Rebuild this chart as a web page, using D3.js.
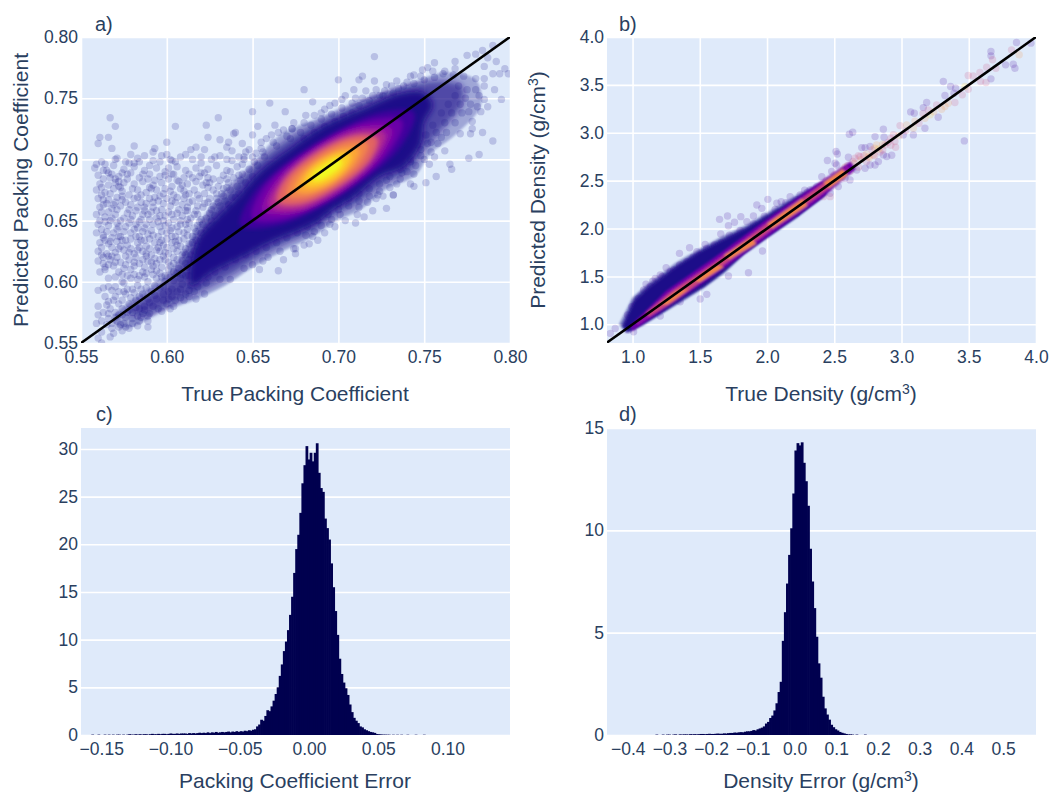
<!DOCTYPE html>
<html>
<head>
<meta charset="utf-8">
<script src="https://cdn.jsdelivr.net/npm/d3@7"></script>
<style>
  body { margin: 0; background: #fff; overflow: hidden; }
  text { font-family: "Liberation Sans", Arial, sans-serif; fill: #2a3f5f; }
</style>
</head>
<body>
<div id="chart"></div>
<script>
// all values below

// a) sparse points, thousandths of the packing coefficient [true, predicted]
var aPoints = [
[567,734],[570,727],[561,718],[560,713],[566,718],[568,709],[559,696],[581,711],[600,714],[605,727],[623,728],[630,734],[624,718],[631,716],[640,722],[639,721],[644,713],[650,739],[660,746],[669,739],[653,727],[650,720],[663,728],[665,722],[673,725],[593,709],[592,706],[617,710],[614,708],[611,704],[622,708],[636,714],[635,710],[638,707],[579,704],[587,703],[570,700],[576,698],[600,704],[584,698],[581,697],[590,695],[596,698],[605,698],[602,700],[620,702],[628,702],[631,703],[645,702],[658,717],[661,720],[670,719],[655,709],[652,705],[646,706],
[562,698],[571,701],[578,697],[583,701],[592,699],[597,703],[603,699],[608,702],[615,700],[620,697],[626,700],[638,699],[645,700],[651,698],[657,702],[558,693],[565,691],[569,695],[575,692],[581,694],[587,691],[594,693],[599,690],[606,694],[611,691],[617,693],[624,692],[629,695],[635,691],[641,694],[648,692],[653,695],
[560,687],[563,684],[568,688],[572,686],[579,689],[584,685],[590,688],[596,686],[601,684],[604,688],[610,685],[613,688],[619,686],[622,689],[627,684],[633,687],[639,685],[644,688],[650,686],[570,684],[572,682],[561,680],[566,679],[575,681],[581,680],[586,682],[592,679],[597,681],[603,678],[607,682],[612,680],[617,682],[621,679],[625,681],[630,678],[636,681],[641,678],[646,681],
[559,675],[564,673],[569,676],[574,674],[578,671],[583,675],[588,673],[594,675],[598,672],[602,674],[608,676],[613,672],[616,675],[622,672],[627,675],[632,672],[637,675],[642,672],[560,668],[566,667],[571,669],[576,665],[581,668],[585,665],[590,668],[595,666],[600,668],[605,665],[610,668],[615,666],[619,668],[624,665],[629,668],[634,666],[638,669],[561,661],[563,663],[568,660],[573,662],[578,659],[583,661],[587,658],[592,661],[597,659],[602,662],[607,659],[612,661],[617,658],[621,661],[626,659],[631,662],
[559,655],[564,653],[570,655],[575,652],[580,654],[585,651],[589,655],[594,652],[599,654],[604,651],[609,654],[614,652],[618,655],[623,652],[628,654],[560,647],[566,646],[571,648],[576,645],[582,647],[587,644],[592,647],[596,645],[601,648],[606,645],[611,647],[616,644],[621,647],[625,645],[559,640],[563,638],[569,640],[573,637],[579,640],[584,637],[589,639],[595,637],[600,640],[605,637],[610,640],[615,637],[620,640],
[561,632],[566,631],[571,633],[577,630],[583,632],[588,629],[593,632],[598,630],[603,632],[608,629],[613,631],[618,629],[560,625],[565,623],[570,624],[575,626],[581,623],[586,625],[591,622],[596,625],[601,623],[606,625],[611,622],[560,617],[563,615],[567,618],[573,616],[578,618],[584,615],[589,617],[594,615],[599,618],[604,615],[609,617],[561,608],[564,610],[572,608],[579,610],[586,608],[591,610],[596,607],[601,610],[606,607],[611,605],[566,603],[574,600],[583,602],[589,600],[594,603],[599,600],[604,601],[609,598],[614,597],
[589,563],[589,568],[583,564],[567,555],[562,550],[560,554],[562,559],[559,566],[560,573],[560,580],[565,581],[560,593],[563,595],[566,596],[570,596],[575,599],[604,580],[602,578],[617,586],[622,590],[637,602],[631,602],[654,610],[650,614],[665,609],[668,618],[674,627],[666,625],[656,617],[659,620],[645,611],[624,604],[610,585],[587,580],[583,572],[573,565],[568,562],[563,575],[566,570],[570,575],[574,578],[578,582],[582,585],[586,590],[569,585],[564,588],[576,590],[580,594],[590,583],[594,586],[598,590],[571,568],[576,571],[580,575],
[721,784],[700,765],[680,757],[685,747],[681,736],[673,725],[712,765],[714,768],[721,764],[709,757],[702,749],[695,744],[690,738],[756,779],[749,773],[744,769],[768,780],[775,785],[780,786],[784,789],[790,793],[787,783],[792,780],[785,776],[797,774],[799,770],[790,770],[794,770],[785,766],[780,766],[773,768],[767,769],[761,770],[755,772],[791,757],[795,749],[785,749],[787,743],[781,743],[783,739],[776,739],[778,731],[778,725],[784,722],[777,721],[771,721],[790,715],[782,704],[776,701],[765,696],[766,692],[757,686],[762,707],[754,706],[753,696],[751,681],[744,688],[744,678],[742,680],[737,689],[734,680],[732,671],[723,671],[728,683],
[715,653],[711,655],[712,661],[717,665],[722,668],[726,670],[732,671],[701,655],[695,647],[690,646],[686,641],[685,637],[683,631],[675,627],[675,623],[681,638],[696,651],
[785,760],[780,757],[775,757],[770,760],[782,752],[774,750],[768,752],[777,745],[771,745],[764,745],[772,738],[766,738],[760,738],[768,730],[762,730],[755,728],[763,722],[757,722],[751,720],[758,713],[752,713],[746,712],[748,703],[742,700],[738,695],[731,760],[735,758],[727,756],[740,763],[724,752],[718,748],[712,744],[708,738],[703,735],[698,731],[692,727],[686,722],[680,717],[728,660],[720,658],[710,648],[704,650],[698,645],[692,640],[688,634],[680,630],
// second pass, filling the gaps
[563,691],[567,685],[574,689],[577,684],[586,688],[593,683],[599,687],[606,683],[615,685],[624,685],[631,683],[637,690],[643,683],[562,677],[567,672],[572,678],[580,676],[585,671],[590,677],[596,670],[604,671],[610,674],[618,671],[624,677],[629,672],[635,677],[640,669],[647,675],[563,667],[569,663],[574,667],[579,663],[588,664],[593,669],[598,664],[603,666],[609,663],[613,665],[622,664],[627,662],[633,670],[643,664],
[562,657],[566,657],[571,659],[577,656],[582,658],[586,655],[591,657],[596,654],[601,657],[606,656],[611,658],[616,655],[620,651],[626,650],[632,656],[637,660],[561,650],[567,650],[573,650],[578,648],[584,649],[590,651],[595,649],[599,646],[603,644],[608,650],[613,648],[618,646],[623,642],[629,647],[633,651],
[562,643],[565,641],[571,643],[575,641],[581,643],[586,641],[591,642],[597,641],[602,642],[607,641],[612,643],[617,641],[622,636],[627,640],[564,634],[568,636],[574,634],[579,635],[585,634],[590,635],[596,632],[600,635],[605,633],[610,635],[615,632],[620,633],[562,628],[568,628],[573,629],[579,627],[584,628],[590,627],[595,628],[600,628],[606,630],[611,627],[616,625],
[563,620],[566,621],[571,620],[576,621],[582,620],[588,621],[593,619],[598,621],[604,620],[609,622],[613,618],[618,620],[564,612],[569,613],[575,611],[581,613],[587,612],[592,613],[597,612],[602,613],[607,611],[612,612],[617,612],[570,604],[577,605],[581,606],[587,604],[592,606],[597,604],[602,604],[608,603],[613,605],[618,603],
[575,592],[581,591],[585,594],[591,592],[596,595],[601,592],[606,592],[611,590],[616,592],[565,565],[572,573],[577,575],[584,578],[590,574],[595,578],[600,582],[605,585],[586,574],[580,570],[575,566],[569,558],[574,560],[578,562],[584,568],[562,568],[567,578],[572,582],
[635,700],[642,702],[648,708],[655,714],[662,714],[668,724],[674,730],[680,730],[686,736],[692,741],[698,746],[704,752],[710,750],[716,756],[722,757],[728,761],[734,764],[742,768],[748,768],[752,775],[644,696],[650,702],[656,706],[664,711],[672,717],[678,722],[684,728],[690,733],[696,737],[702,742],[708,746],[714,750],[720,752],[726,752],[732,754],[738,760],[744,762],[750,765],[756,767],[762,772],[768,774],
[628,616],[634,620],[640,624],[646,628],[652,632],[658,636],[664,640],[670,645],[676,650],[682,655],[688,660],[694,664],[700,664],[706,668],[712,672],[718,676],[724,680],[730,686],[736,692],[742,698],[748,708],[754,714],[760,718],[622,610],[628,608],[634,612],[640,618],[646,622],[652,625],[658,628],[664,632],[670,636],[676,640],[682,645],[688,650],[694,655],[700,659],[706,662],[712,666],[718,670],[724,674],[730,677],[736,684],[740,690],[745,695],[750,700],[756,702],
// third pass, small clumps that break up the rows
[564,696],[566,689],[570,681],[573,677],[577,688],[589,684],[591,676],[601,693],[603,688],[609,679],[611,671],[620,689],[623,681],[635,684],[633,676],[642,687],[562,671],[565,664],[570,665],[574,670],[583,669],[587,661],[592,665],[599,676],[606,669],[612,658],[618,662],[625,668],[630,665],[636,663],[641,660],[564,649],[568,652],[572,645],[579,651],[583,644],[588,647],[594,658],[598,650],[603,655],[608,647],[612,651],[619,649],[625,656],[630,641],[635,646],
[563,636],[567,633],[572,637],[576,634],[582,637],[587,634],[592,638],[597,634],[603,637],[607,634],[612,638],[617,634],[621,630],[625,635],[562,622],[568,621],[572,627],[578,624],[583,626],[588,623],[594,626],[599,624],[604,627],[610,624],[614,622],[619,625],[623,621],[566,614],[570,616],[576,614],[581,616],[586,618],[591,616],[596,618],[601,616],[606,618],[611,615],[616,616],[621,614],[574,606],[579,603],[584,605],[588,607],[594,609],[599,605],[604,608],[609,606],[614,609],[619,607],
[568,593],[572,592],[577,594],[583,597],[588,595],[593,597],[598,596],[603,594],[608,594],[613,593],[618,596],[623,599],[566,584],[570,588],[574,585],[579,587],[584,588],[589,586],[593,589],[598,585],[603,588],[608,587],[613,588],[566,574],[570,571],[574,573],[578,577],[582,579],[587,577],[592,580],[597,576],[601,586],[568,566],[572,563],[576,563],[580,566],[585,571],[589,572]
];

// a) dense part of the cloud, outlines of the colour bands read as [true, predicted]
var aHaze = [[.590,.596],[.605,.614],[.618,.646],[.631,.671],[.649,.695],[.666,.720],[.689,.734],[.718,.751],[.742,.762],[.762,.771],[.780,.765],[.783,.744],[.768,.720],[.753,.704],[.745,.687],[.727,.675],[.713,.659],[.698,.649],[.684,.636],[.666,.624],[.649,.611],[.634,.597],[.616,.585],[.599,.577],[.576,.562],[.568,.569]];
var aMid = [[.600,.600],[.612,.625],[.625,.655],[.638,.676],[.652,.696],[.670,.716],[.690,.731],[.716,.748],[.738,.759],[.757,.764],[.772,.760],[.772,.745],[.760,.724],[.750,.708],[.742,.691],[.726,.680],[.711,.664],[.697,.654],[.686,.642],[.670,.632],[.654,.620],[.638,.606],[.622,.594],[.606,.584],[.585,.572],[.577,.576]];
var aSolid = [[.618,.634],[.631,.655],[.641,.669],[.654,.690],[.672,.709],[.691,.727],[.717,.743],[.736,.754],[.749,.755],[.755,.745],[.750,.730],[.748,.713],[.738,.694],[.724,.686],[.709,.669],[.697,.659],[.688,.649],[.676,.641],[.660,.632],[.644,.620],[.627,.608],[.614,.597]];
var aLevels = [.1,.2,.3,.4,.5,.6,.7,.8,.9,1];
var aContours = [
[[.744,.738],[.736,.710],[.703,.672],[.664,.646],[.643,.646],[.651,.673],[.684,.711],[.723,.738]],
[[.737,.731],[.730,.707],[.702,.673],[.668,.651],[.650,.652],[.656,.676],[.685,.710],[.719,.732]],
[[.731,.725],[.725,.703],[.702,.674],[.673,.656],[.656,.658],[.662,.680],[.686,.709],[.714,.727]],
[[.727,.721],[.721,.701],[.701,.676],[.676,.659],[.660,.662],[.666,.682],[.686,.707],[.711,.723]],
[[.723,.717],[.719,.700],[.700,.678],[.677,.663],[.664,.665],[.668,.682],[.687,.705],[.710,.719]],
[[.722,.717],[.718,.700],[.700,.678],[.678,.664],[.665,.666],[.669,.683],[.687,.705],[.709,.719]],
[[.717,.713],[.713,.698],[.698,.680],[.680,.669],[.670,.670],[.673,.684],[.688,.702],[.706,.714]],
[[.712,.708],[.709,.697],[.698,.682],[.683,.673],[.675,.675],[.678,.686],[.689,.700],[.704,.709]],
[[.707,.704],[.705,.695],[.697,.684],[.686,.678],[.680,.679],[.682,.688],[.690,.698],[.701,.705]],
[[.702,.699],[.701,.694],[.695,.687],[.689,.683],[.685,.683],[.686,.689],[.692,.695],[.698,.700]]
];

// b) sparse points [true density, predicted density, colour level]
var bPoints = [
[3.855,3.943,.1],[3.818,3.866,.5],[3.875,3.814,.75],[3.962,3.936,.1],[3.665,3.849,.1],[3.665,3.803,.1],[3.677,3.762,.5],[3.774,3.709,.1],[3.831,3.716,.1],[3.843,3.674,.1],[3.702,3.674,.5],[3.633,3.685,.5],[3.583,3.629,.5],[3.533,3.594,.5],[3.496,3.598,.5],[3.665,3.563,.1],[3.628,3.525,.5],[3.588,3.535,.5],[3.496,3.455,.5],[3.472,3.483,.9],[3.311,3.535,.1],[3.365,3.483,.1],[3.402,3.465,.1],[3.452,3.396,.5],[3.39,3.413,.1],[3.323,3.389,.1],[3.348,3.309,.75],[3.397,3.316,.5],[3.323,3.274,.75],[3.298,3.246,.75],[3.261,3.291,.5],[3.187,3.316,.1],[3.162,3.263,.1],[3.199,3.239,.5],[3.212,3.187,.9],[3.174,3.152,.75],[3.273,3.162,.1],[3.068,3.218,.1],[3.095,3.204,.1],[2.989,3.075,.5],[3.038,3.082,.75],[3.088,3.047,.75],[3.174,3.047,.1],[3.088,2.978,.1],[3.013,2.978,.1],[2.951,2.908,.5],[2.956,2.849,.5],[2.865,3.037,.1],[2.803,2.96,.1],[2.87,2.953,.1],[2.637,3.006,.1],[2.612,2.985,.1],[2.513,2.804,.1],[2.523,2.779,.1],[2.449,2.71,.1],[2.506,2.682,.1],[2.518,2.664,.1],[2.605,2.744,.1],[2.704,2.845,.1],[2.729,2.845,.1],[2.766,2.856,.1],[2.815,2.873,.75],[2.877,2.873,.5],[2.927,2.765,.1],[2.89,2.751,.1],[2.865,2.769,.1],[2.828,2.699,.1],[2.803,2.664,.1],[2.766,2.664,.1],[2.729,2.629,.1],[2.667,2.612,.1],[2.617,2.508,.1],[3.467,2.915,.1],[2.654,2.734,.5],[2.691,2.751,.5],[2.753,2.751,.75],[2.79,2.769,.75],[2.617,2.629,.5],[2.568,2.612,.5],[2.53,2.542,.75],[2.493,2.49,.75],[2.456,2.438,.5],[2.419,2.403,.1],[2.37,2.438,.1],[2.407,2.542,.1],[2.481,2.595,.1],[2.58,2.525,.1],[2.53,2.438,.1],[2.469,2.368,.1],[2.37,2.368,.5],[2.32,2.403,.1],[2.469,2.333,.5],[2.419,2.333,.5],
[2.55,2.60,.5],[2.60,2.66,.5],[2.65,2.68,.75],[2.72,2.76,.5],[2.78,2.82,.5],[2.84,2.80,.5],[2.92,2.94,.5],[2.44,2.50,.5],[2.50,2.56,.5],[2.56,2.54,.75],[2.68,2.64,.5],[2.40,2.45,.75],[2.36,2.40,.5],
[2.70,2.72,.75],[2.74,2.78,.75],[2.76,2.74,.75],[2.80,2.84,.75],[2.83,2.83,.9],[2.86,2.88,.75],[2.90,2.90,.5],[2.94,2.98,.5],[2.98,2.97,.75],[2.74,2.70,.5],[2.80,2.76,.5],[2.86,2.82,.5],[2.92,2.87,.5],[2.62,2.60,.5],[2.58,2.64,.75],[2.64,2.70,.5],[2.68,2.76,.5],[3.03,3.02,.5],[3.10,3.12,.75],[3.13,3.10,.5],[3.16,3.20,.5],[3.24,3.22,.75],
[2.006,2.305,.1],[1.924,2.246,.1],[1.961,2.211,.1],[2.073,2.264,.1],[2.105,2.281,.1],[2.172,2.333,.1],[2.246,2.351,.1],[1.899,2.131,.1],[1.85,2.072,.1],[1.805,2.124,.1],[1.706,2.131,.1],[1.647,2.096,.1],[1.758,2.065,.1],[1.713,2.03,.1],[1.656,1.943,.1],[1.609,1.828,.1],[1.54,1.835,.1],[1.424,1.8,.1],[1.349,1.741,.1],[1.478,1.759,.1],[1.25,1.591,.1],[1.169,1.48,.1],[1.131,1.393,.1],[1.045,1.271,.1],[.995,1.184,.1],[.963,1.097,.1],[.871,.957,.1],[.834,.905,.1],[1.862,1.539,.1],[1.966,1.766,.1],[1.503,1.264,.1],[1.552,1.313,.1],[1.713,1.504,.1],[1.825,1.88,.1],[1.775,1.915,.1],[1.602,1.724,.1],[1.404,1.654,.1],[1.305,1.567,.1],[1.206,1.515,.1],[1.082,1.358,.1],[1.02,1.201,.1],[1.354,1.236,.1],[1.206,1.086,.1],[1.008,.923,.1],[.97,.94,.1],
[1.10,1.42,.1],[1.15,1.45,.1],[1.22,1.50,.1],[1.28,1.55,.1],[1.35,1.62,.1],[1.45,1.70,.1],[1.50,1.72,.1],[1.55,1.79,.1],[1.66,1.85,.1],[1.72,1.93,.1],[1.80,1.98,.1],[1.90,2.05,.1],[1.98,2.13,.1],[2.06,2.20,.1],[2.14,2.27,.1],[2.22,2.30,.1],[2.30,2.38,.1],[2.28,2.40,.1],[2.12,2.09,.1],[2.22,2.16,.1],[2.30,2.25,.1]
];

// b) dense part, outlines read as [true, predicted]
var bHaze = [[.90,1.00],[1.00,1.28],[1.12,1.43],[1.32,1.64],[1.50,1.79],[1.67,1.92],[1.85,2.04],[2.02,2.18],[2.22,2.35],[2.40,2.48],[2.50,2.50],[2.42,2.33],[2.22,2.11],[2.00,1.90],[1.83,1.73],[1.68,1.53],[1.53,1.38],[1.38,1.25],[1.23,1.12],[1.08,.99],[.95,.91]];
var bMid = [[.92,.99],[1.01,1.27],[1.12,1.41],[1.33,1.62],[1.50,1.77],[1.67,1.90],[1.85,2.02],[2.02,2.16],[2.22,2.33],[2.41,2.47],[2.47,2.45],[2.43,2.35],[2.22,2.12],[2.00,1.91],[1.83,1.74],[1.68,1.55],[1.53,1.39],[1.38,1.26],[1.23,1.13],[1.08,1.00],[.96,.92]];
var bSolid = [[.93,.98],[1.02,1.25],[1.13,1.39],[1.33,1.60],[1.50,1.75],[1.68,1.88],[1.85,2.00],[2.02,2.14],[2.22,2.31],[2.42,2.46],[2.44,2.36],[2.22,2.13],[2.00,1.92],[1.83,1.75],[1.68,1.56],[1.53,1.40],[1.38,1.28],[1.23,1.14],[1.08,1.02],[.97,.93]];
var bContours = [
[[.98,.98],[1.25,1.35],[1.60,1.69],[2.00,2.10],[2.40,2.49],[2.62,2.70],[2.66,2.62],[2.40,2.31],[2.00,1.91],[1.60,1.50],[1.25,1.17],[1.00,.93]],
[[1.02,1.02],[1.25,1.32],[1.60,1.66],[2.00,2.07],[2.40,2.46],[2.60,2.66],[2.62,2.60],[2.40,2.34],[2.00,1.94],[1.60,1.53],[1.25,1.19],[1.04,.99]],
[[1.10,1.12],[1.30,1.35],[1.60,1.63],[2.00,2.05],[2.40,2.45],[2.56,2.62],[2.60,2.56],[2.40,2.36],[2.00,1.96],[1.60,1.54],[1.30,1.23],[1.12,1.08]],
[[1.20,1.21],[1.33,1.35],[1.42,1.37],[1.26,1.21]],
[[1.46,1.46],[1.62,1.62],[1.68,1.60],[1.50,1.44]],
[[1.68,1.72],[1.88,1.90],[1.92,1.84],[1.72,1.68]],
[[2.00,2.05],[2.26,2.31],[2.30,2.24],[2.04,2.00]],
[[2.42,2.48],[2.56,2.62],[2.60,2.56],[2.46,2.42]]
];
var bContourLevel = [.2,.3,.5,.7,.7,.7,.7,.7];

// c) histogram of the packing coefficient error, one value per bar
var cBinStart = -0.1646;
var cBinWidth = 0.001487;
var cCounts = [
0,0,0,0,0,.04,0,0,.04,0,0,.04,0,.04,0,.04,0,.04,.04,0,.04,0,.04,.08,.04,.04,.08,.04,.08,.04,
.08,.08,.04,.08,.12,.08,.08,.12,.08,.12,.12,.08,.12,.16,.12,.12,.16,.12,.16,.16,.16,.12,.2,.16,.2,.16,.2,.24,.2,.24,
.2,.28,.2,.28,.24,.32,.24,.28,.32,.28,.32,.36,.28,.36,.32,.4,.32,.4,.36,.45,.4,.5,.45,.55,.6,.9,1.1,1.6,1.5,2.0,
2.6,2.5,3.0,3.6,4.3,5.0,6.2,7.4,8.8,9.8,11,12.6,14.5,17,19.5,21,23.3,26.4,28.3,30.3,28.9,29.6,28.7,29.6,30.6,27.5,25.9,25.5,22.7,21.7,
20.5,18,15.5,13,10.5,8,6.4,5.5,4.9,4.2,3.2,2.4,1.8,1.5,1.25,.9,.8,.6,.5,.4,.32,.28,.22,.1,.08,.06,.04,.04,.03,.03,
0,.03,0,.03,0,.03,0,0,.03,0,0,0,.03,0,0,0,.03
];
var cXTicks = [-0.15, -0.10, -0.05, 0, 0.05, 0.10];
var cYTicks = [0, 5, 10, 15, 20, 25, 30];

// d) histogram of the density error
var dBinStart = -0.4497;
var dBinWidth = 0.00505;
var dCounts = [
0,0,0,0,0,0,0,0,0,0,0,0,0,0,0,0,0,0,0,0,0,0,0,
.02,0,0,.02,0,.02,.02,0,.02,.03,0,.03,.02,.03,.03,.02,.04,.03,.04,.03,.04,.05,
.05,.04,.05,.06,.05,.05,.06,.07,.06,.06,.08,.07,.09,.1,.1,.12,.11,.13,.14,.13,
.16,.18,.18,.2,.24,.22,.28,.32,.36,.42,.56,.64,.83,.95,1.2,1.55,2.1,2.6,4.6,6.0,7.4,8.8,10.1,11.8,13.9,14.26,14.15,14.3,13.3,12.4,11.2,9.1,7.5,6.2,4.8,3.5,2.8,1.87,1.3,1.0,.75,.5,.38,.28,.22,.15,.11,.08,.05,.03,.03,.02,0,.02,0,0,0,.02
];
var dXTicks = [-0.4, -0.3, -0.2, -0.1, 0, 0.1, 0.2, 0.3, 0.4, 0.5];
var dYTicks = [0, 5, 10, 15];

var aTicks = [0.55, 0.60, 0.65, 0.70, 0.75, 0.80];
var bTicks = [1, 1.5, 2, 2.5, 3, 3.5, 4];

var plotBg = "#dfeafa";
var barColor = "#00004f";
var left1 = 81, left2 = 607, plotW = 429, plotH1 = 306, plotH2 = 307;
var top1 = 37, top2 = 428;

var svg = d3.select("#chart").append("svg")
    .attr("width", 1049)
    .attr("height", 792);

var defs = svg.append("defs");
defs.append("filter").attr("id", "blurA")
    .append("feGaussianBlur").attr("stdDeviation", 2.2);
defs.append("filter").attr("id", "blurB")
    .append("feGaussianBlur").attr("stdDeviation", 0.9);
defs.append("filter").attr("id", "blurEdge")
    .append("feGaussianBlur").attr("stdDeviation", 1.2);
defs.append("filter").attr("id", "blurSoft")
    .append("feGaussianBlur").attr("stdDeviation", 3);

function makePanel(id, left, top, h, xDomain, yDomain, xTicks, yTicks, fmtX, fmtY, vGrid){
    var x = d3.scaleLinear().domain(xDomain).range([0, plotW]);
    var y = d3.scaleLinear().domain(yDomain).range([h, 0]);

    var g = svg.append("g").attr("transform", "translate(" + left + "," + top + ")");

    defs.append("clipPath").attr("id", "clip" + id)
        .append("rect").attr("width", plotW).attr("height", h);

    g.append("rect").attr("width", plotW).attr("height", h).attr("fill", plotBg);

    // grid
    var yGrid = g.append("g").call(d3.axisLeft(y).tickValues(yTicks).tickSize(-plotW).tickFormat(""));
    yGrid.select(".domain").remove();
    yGrid.selectAll("line").attr("stroke", "#fff").attr("stroke-width", 1.6);
    if (vGrid) {
        var xGrid = g.append("g").attr("transform", "translate(0," + h + ")")
            .call(d3.axisBottom(x).tickValues(xTicks).tickSize(-h).tickFormat(""));
        xGrid.select(".domain").remove();
        xGrid.selectAll("line").attr("stroke", "#fff").attr("stroke-width", 1.6);
    }

    var marks = g.append("g").attr("clip-path", "url(#clip" + id + ")");

    // tick labels drawn after the marks
    var xAxis = g.append("g").attr("transform", "translate(0," + h + ")")
        .call(d3.axisBottom(x).tickValues(xTicks).tickSize(0).tickPadding(8).tickFormat(fmtX));
    var yAxis = g.append("g")
        .call(d3.axisLeft(y).tickValues(yTicks).tickSize(0).tickPadding(3).tickFormat(fmtY));
    xAxis.select(".domain").remove();
    yAxis.select(".domain").remove();
    g.selectAll(".tick text").attr("font-size", 17.5).attr("font-family", null).style("fill", "#2a3f5f");

    return {x: x, y: y, marks: marks};
}

function drawScatter(panel, opt){
    var area = d3.line().x(d => panel.x(d[0])).y(d => panel.y(d[1])).curve(opt.curve);

    panel.marks.append("path").attr("d", area(opt.haze))
        .attr("fill", "#0d0887").attr("opacity", opt.hazeOpacity).attr("filter", "url(#blurEdge)");

    panel.marks.selectAll(".pt").data(opt.points).enter().append("circle")
        .attr("class", "pt")
        .attr("cx", d => panel.x(opt.getX(d)))
        .attr("cy", d => panel.y(opt.getY(d)))
        .attr("r", 3.7)
        .attr("fill", d => d3.interpolatePlasma(opt.getLevel(d)))
        .attr("opacity", 0.18);

    panel.marks.append("path").attr("d", area(opt.mid))
        .attr("fill", "#1a0889").attr("opacity", opt.midOpacity).attr("filter", opt.solidFilter);

    panel.marks.append("path").attr("d", area(opt.solid))
        .attr("fill", "#1a0889").attr("opacity", 1).attr("filter", opt.solidFilter);

    var bands = panel.marks.append("g").attr("filter", opt.filter);
    opt.contours.forEach(function(c, i){
        bands.append("path").attr("d", area(c))
            .attr("fill", d3.interpolatePlasma(opt.levels[i]));
    });

    // y = x reference line
    var lo = Math.max(panel.x.domain()[0], panel.y.domain()[0]);
    var hi = Math.min(panel.x.domain()[1], panel.y.domain()[1]);
    panel.marks.append("line")
        .attr("x1", panel.x(lo)).attr("y1", panel.y(lo))
        .attr("x2", panel.x(hi)).attr("y2", panel.y(hi))
        .attr("stroke", "#000").attr("stroke-width", 2.6);
}

function drawHist(panel, counts, start, width){
    // bars overlap by a hair so no seams show between them
    panel.marks.selectAll("rect.bar").data(counts).enter().append("rect")
        .attr("class", "bar")
        .attr("x", (d, i) => panel.x(start + i * width))
        .attr("width", (d, i) => panel.x(start + (i + 1) * width) - panel.x(start + i * width) + 0.7)
        .attr("y", d => panel.y(d))
        .attr("height", d => panel.y(0) - panel.y(d))
        .attr("fill", barColor);
}

function label(x, y, txt, size){
    return svg.append("text").attr("x", x).attr("y", y)
        .attr("font-size", size).text(txt);
}

function title(x, y, txt, sup, rest, rotate){
    var t = svg.append("text").attr("font-size", 21).attr("text-anchor", "middle");
    if (rotate) t.attr("transform", "translate(" + x + "," + y + ") rotate(-90)");
    else t.attr("x", x).attr("y", y);
    t.append("tspan").text(txt);
    if (sup) {
        t.append("tspan").attr("dy", -7).attr("font-size", 14).text(sup);
        t.append("tspan").attr("dy", 7).text(rest);
    }
}

var f2 = d3.format(".2f"), f1 = d3.format(".1f"), f0 = d3.format("d");

var panelA = makePanel("a", left1, top1, plotH1, [0.55, 0.80], [0.55, 0.80], aTicks, aTicks, f2, f2, true);
drawScatter(panelA, {
    haze: aHaze, hazeOpacity: 0.3, mid: aMid, midOpacity: 0.6, solid: aSolid,
    contours: aContours, levels: aLevels,
    points: aPoints, filter: "url(#blurA)", solidFilter: "url(#blurSoft)", curve: d3.curveCatmullRomClosed,
    getX: d => d[0] / 1000, getY: d => d[1] / 1000, getLevel: d => 0
});

var panelB = makePanel("b", left2, top1, plotH1, [0.81, 4.0], [0.805, 4.0], bTicks, bTicks, f1, f1, true);
drawScatter(panelB, {
    haze: bHaze, hazeOpacity: 0.45, mid: bMid, midOpacity: 0.6, solid: bSolid,
    contours: bContours, levels: bContourLevel,
    points: bPoints, filter: "url(#blurB)", solidFilter: "url(#blurEdge)", curve: d3.curveLinearClosed,
    getX: d => d[0], getY: d => d[1], getLevel: d => d[2]
});

var panelC = makePanel("c", left1, top2, plotH2, [-0.1646, 0.1451], [0, 32.2], cXTicks, cYTicks, f2, f0, false);
drawHist(panelC, cCounts, cBinStart, cBinWidth);

var panelD = makePanel("d", left2, top2, plotH2, [-0.4497, 0.579], [0, 15], dXTicks, dYTicks, f1, f0, false);
drawHist(panelD, dCounts, dBinStart, dBinWidth);

label(95, 31, "a)", 20);
label(619, 31, "b)", 20);
label(96, 421, "c)", 20);
label(619, 421, "d)", 20);

title(295, 401, "True Packing Coefficient");
title(821, 401, "True Density (g/cm", "3", ")");
title(295, 788, "Packing Coefficient Error");
title(821, 788, "Density Error (g/cm", "3", ")");
title(28, 190, "Predicted Packing Coefficient", null, null, true);
title(545, 190, "Predicted Density (g/cm", "3", ")", true);
</script>
</body>
</html>
